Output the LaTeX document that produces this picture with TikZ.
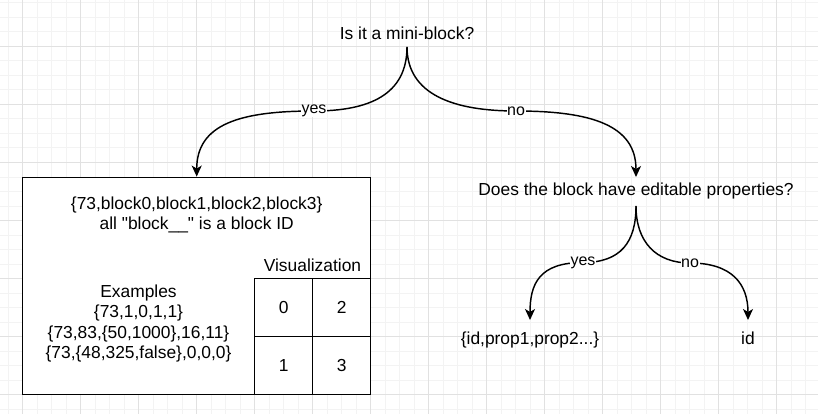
\documentclass[tikz,border=0pt]{standalone}
\usepackage{fontspec}
\setmainfont{Liberation Sans}[Ligatures=TeXOff]
\usetikzlibrary{arrows.meta}
\definecolor{gridminor}{HTML}{F3F3F3}
\definecolor{gridmajor}{HTML}{E1E1E1}
\begin{document}
\begin{tikzpicture}[x=1pt,y=-1pt,
  txt/.style={font=\fontsize{17.4}{20.3}\selectfont, inner sep=0pt, align=center},
  lbl/.style={font=\fontsize{16}{18}\selectfont, fill=white, inner xsep=0.6pt, inner ysep=0.5pt},
  conn/.style={line width=1.45pt, -{Stealth[length=11pt,width=10pt,inset=3pt]}},
  cellbox/.style={draw, line width=1.45pt, fill=white, minimum size=58pt, inner sep=0pt,
                  font=\fontsize{17.4}{20.3}\selectfont},
  minorline/.style={draw=gridminor, line width=1pt},
  majorline/.style={draw=gridmajor, line width=1pt}]
\useasboundingbox (0,0) rectangle (818,414);
\fill[white] (0,0) rectangle (818,414);
% background grid
\begin{scope}
\clip (0,0) rectangle (818,414);
\foreach \k in {0,...,56} { \draw[minorline] ({8.2+14.5*\k},0) -- ({8.2+14.5*\k},414); }
\foreach \k in {0,...,28} { \draw[minorline] (0,{3.0+14.5*\k}) -- (818,{3.0+14.5*\k}); }
\foreach \k in {0,...,13} { \draw[majorline] ({22.7+58*\k},0) -- ({22.7+58*\k},414); }
\foreach \k in {0,...,6} { \draw[majorline] (0,{46.5+58*\k}) -- (818,{46.5+58*\k}); }
\end{scope}

% nodes
\node[txt, anchor=base] (q1) at (407,39.3) {Is it a mini-block?};
\node[txt, anchor=base] (q2) at (636,195.5) {Does the block have editable properties?};
\node[txt, anchor=base] (a1) at (530,344.3) {\{id,prop1,prop2...\}};
\node[txt, anchor=base] (a2) at (748,344.3) {id};

\node[draw, line width=1.45pt, fill=white, minimum width=348pt, minimum height=217.4pt, inner sep=0pt] (box) at (196.7,286) {};
\node[txt] (fmt) at (196.7,215) {\{73,block0,block1,block2,block3\}\\all "block\_\_" is a block ID};
\node[txt] (vis) at (312.5,265.7) {Visualization};
\node[txt] (ex) at (138.5,323.5) {Examples\\\{73,1,0,1,1\}\\\{73,83,\{50,1000\},16,11\}\\\{73,\{48,325,false\},0,0,0\}};
\node[cellbox] (c0) at (283.7,307.7) {0};
\node[cellbox] (c2) at (341.7,307.7) {2};
\node[cellbox] (c1) at (283.7,365.7) {1};
\node[cellbox] (c3) at (341.7,365.7) {3};

% label positions
\coordinate (m1) at (314,111);
\coordinate (m2) at (516,111);
\coordinate (m3) at (583,262.5);
\coordinate (m4) at (690,263);

% connectors
\draw[conn] ([yshift=-7.5pt]q1.base) .. controls +(0,48) and +(55,0) .. (m1)
   .. controls +(-75,0) and +(0,-52) .. (box.north);
\draw[conn] ([yshift=-7.5pt]q1.base) .. controls +(0,48) and +(-62,0) .. (m2)
   .. controls +(75,0) and +(0,-52) .. ([yshift=18.5pt]q2.base);
\draw[conn] ([yshift=-10.5pt]q2.base) .. controls +(0,36) and +(38,0) .. (m3)
   .. controls +(-44,0) and +(0,-36) .. ([yshift=24.3pt]a1.base);
\draw[conn] ([yshift=-10.5pt]q2.base) .. controls +(0,36) and +(-34,0) .. (m4)
   .. controls +(42,0) and +(0,-36) .. ([yshift=24.3pt]a2.base);

% edge labels
\node[lbl] (l1) at (m1) {yes};
\node[lbl] (l2) at (m2) {no};
\node[lbl] (l3) at (m3) {yes};
\node[lbl] (l4) at (m4) {no};
\end{tikzpicture}
\end{document}
